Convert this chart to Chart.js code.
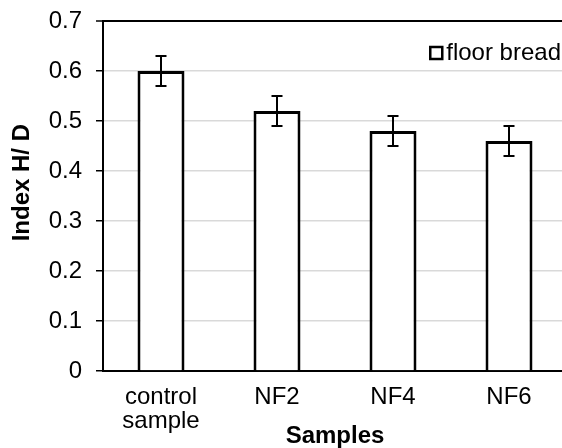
<!DOCTYPE html>
<html>
<head>
<meta charset="utf-8">
<script src="https://cdn.jsdelivr.net/npm/chart.js@4"></script>
<style>
    body { margin: 0; overflow: hidden; background: #fff; }
    #wrap { width: 570px; height: 448px; }
</style>
</head>
<body>
<div id="wrap"><canvas id="myChart"></canvas></div>
<script>
const samples = [["control", "sample"], "NF2", "NF4", "NF6"]
const indexHD = [0.60, 0.52, 0.48, 0.46]
const indexErr = [0.03, 0.03, 0.03, 0.03]
const seriesName = "floor bread"
const yTicks = [0, 0.1, 0.2, 0.3, 0.4, 0.5, 0.6, 0.7]

const FONT = "'Liberation Sans', Arial, sans-serif"

// error bars, drawn on top of the bars
const errorBars = {
    id: 'errorBars',
    afterDatasetsDraw(chart) {
        const ctx = chart.ctx
        const y = chart.scales.y
        const meta = chart.getDatasetMeta(0)
        ctx.save()
        ctx.strokeStyle = '#000'
        ctx.lineWidth = 2
        meta.data.forEach((bar, i) => {
            const top = y.getPixelForValue(indexHD[i] + indexErr[i])
            const bot = y.getPixelForValue(indexHD[i] - indexErr[i])
            ctx.beginPath()
            ctx.moveTo(bar.x, top)
            ctx.lineTo(bar.x, bot)
            ctx.moveTo(bar.x - 5.5, top)
            ctx.lineTo(bar.x + 5.5, top)
            ctx.moveTo(bar.x - 5.5, bot)
            ctx.lineTo(bar.x + 5.5, bot)
            ctx.stroke()
        })
        ctx.restore()
    }
}

// small legend in the top right corner of the plot
const cornerLegend = {
    id: 'cornerLegend',
    afterDraw(chart) {
        const ctx = chart.ctx
        const label = chart.data.datasets[0].label
        ctx.save()
        ctx.font = '24px ' + FONT
        ctx.textBaseline = 'middle'
        ctx.textAlign = 'right'
        const textRight = 561
        const w = ctx.measureText(label).width
        const cy = 53
        ctx.fillStyle = '#000'
        ctx.fillText(label, textRight, cy)
        const bx = textRight - w - 4 - 12
        ctx.fillStyle = '#fff'
        ctx.fillRect(bx, cy - 6, 12, 12)
        ctx.strokeStyle = '#000'
        ctx.lineWidth = 2.5
        ctx.strokeRect(bx, cy - 6, 12, 12)
        ctx.restore()
    }
}

new Chart(document.getElementById('myChart'), {
    type: 'bar',
    data: {
        labels: samples,
        datasets: [{
            label: seriesName,
            data: indexHD,
            backgroundColor: '#fff',
            borderColor: '#000',
            borderWidth: 3,
            barPercentage: 0.405,
            categoryPercentage: 1
        }]
    },
    options: {
        responsive: true,
        maintainAspectRatio: false,
        animation: false,
        layout: { padding: { top: 21, right: 3, left: 0, bottom: 0 } },
        plugins: {
            legend: { display: false },
            tooltip: { enabled: false }
        },
        scales: {
            x: {
                afterFit(scale) {
                    scale.height = 77
                    scale.paddingLeft = 0
                    scale.paddingRight = 0
                },
                grid: { display: false, drawTicks: false },
                border: { color: '#000', width: 2 },
                ticks: {
                    color: '#000',
                    padding: 14,
                    maxRotation: 0,
                    font: { family: FONT, size: 24, lineHeight: 1.0 }
                },
                title: {
                    display: true,
                    text: 'Samples',
                    color: '#000',
                    padding: 0,
                    font: { family: FONT, size: 24, weight: 'bold', lineHeight: 1 }
                }
            },
            y: {
                min: 0,
                max: 0.7,
                afterFit(scale) {
                    scale.width = 103
                    scale.paddingTop = 0
                    scale.paddingBottom = 0
                },
                afterBuildTicks(scale) { scale.ticks = yTicks.map(v => ({ value: v })) },
                grid: {
                    color: c => (c.tick && Math.abs(c.tick.value - 0.7) < 1e-9) ? '#000' : '#d9d9d9',
                    lineWidth: c => (c.tick && Math.abs(c.tick.value - 0.7) < 1e-9) ? 2 : 1.5,
                    tickColor: '#000',
                    tickLength: 7,
                    tickWidth: 1.5
                },
                border: { color: '#000', width: 2 },
                ticks: {
                    color: '#000',
                    padding: 14,
                    font: { family: FONT, size: 24 },
                    callback: v => v === 0 ? '0' : v.toFixed(1)
                },
                title: {
                    display: true,
                    text: '    Index H/ D',
                    color: '#000',
                    padding: { top: 10, bottom: 0 },
                    font: { family: FONT, size: 24, weight: 'bold', lineHeight: 1 }
                }
            }
        }
    },
    plugins: [errorBars, cornerLegend]
})
</script>
</body>
</html>
